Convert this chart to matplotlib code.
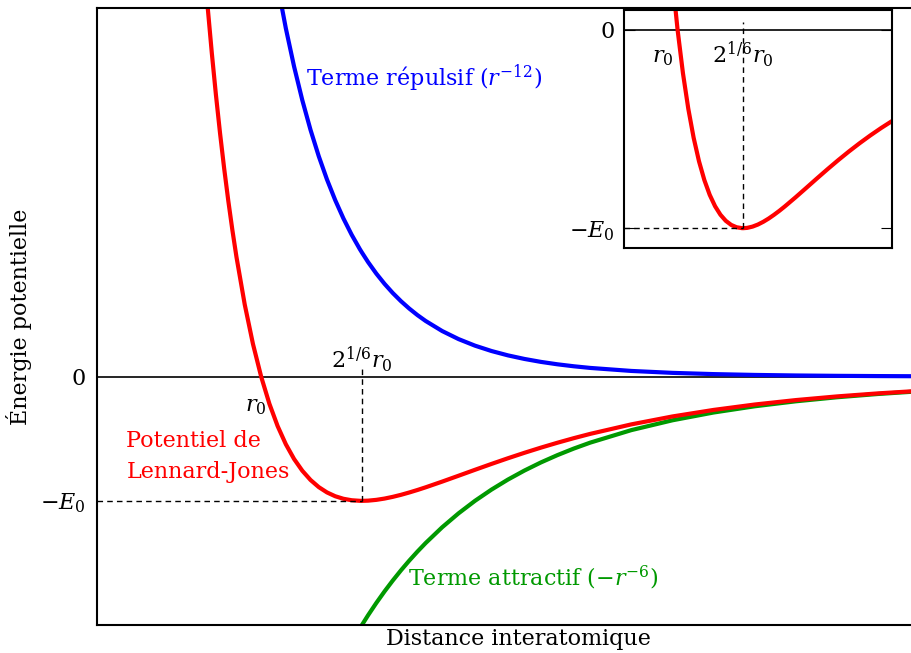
import matplotlib
matplotlib.use("Agg")
import matplotlib.pyplot as plt

# interatomic distance (units of r0) and energies (units of E0)
r = [0.93, 0.935, 0.94, 0.945, 0.95, 0.955, 0.96, 0.965, 0.97, 0.98, 0.99, 1.00,
     1.01, 1.02, 1.03, 1.04, 1.05, 1.06, 1.07, 1.08, 1.09, 1.10, 1.11, 1.12,
     1.1225, 1.13, 1.14, 1.15, 1.16, 1.17, 1.18, 1.19, 1.20, 1.22, 1.24, 1.26,
     1.28, 1.30, 1.32, 1.34, 1.36, 1.38, 1.40, 1.45, 1.50, 1.55, 1.60, 1.65,
     1.70, 1.75, 1.80, 1.85]
lj = [3.3733, 2.9736, 2.6066, 2.2699, 1.9609, 1.6778, 1.4183, 1.1806, 0.9629, 0.5819, 0.2641, 0.0,
      -0.2184, -0.3979, -0.5444, -0.6629, -0.7575, -0.8320, -0.8893, -0.9322, -0.9629, -0.9834, -0.9952, -0.9998,
      -1.0, -0.9985, -0.9921, -0.9817, -0.9679, -0.9515, -0.9328, -0.9126, -0.8910, -0.8452, -0.7977, -0.7498,
      -0.7027, -0.6570, -0.6132, -0.5716, -0.5323, -0.4953, -0.4607, -0.3841, -0.3203, -0.2677, -0.2242, -0.1884,
      -0.1589, -0.1344, -0.1141, -0.0973]
repulsive = [9.5558, 8.9603, 8.4048, 7.8864, 7.4024, 6.9506, 6.5284, 6.1339, 5.7650, 5.0974, 4.5127, 4.0,
             3.5498, 3.1540, 2.8056, 2.4984, 2.2274, 1.9879, 1.7760, 1.5884, 1.4222, 1.2745, 1.1434, 1.0267,
             1.0, 0.9228, 0.8302, 0.7476, 0.6738, 0.6079, 0.5489, 0.4960, 0.4486, 0.3679, 0.3027, 0.2498,
             0.2068, 0.1717, 0.1430, 0.1193, 0.0999, 0.0839, 0.0706, 0.0463, 0.0308, 0.0208, 0.0142, 0.0098,
             0.0069, 0.0049, 0.0035, 0.0025]
attractive = [-6.1825, -5.9868, -5.7982, -5.6166, -5.4415, -5.2728, -5.1102, -4.9533, -4.8021, -4.5155, -4.2486, -4.0,
              -3.7682, -3.5519, -3.3500, -3.1612, -2.9849, -2.8198, -2.6654, -2.5207, -2.3851, -2.2579, -2.1386, -2.0265,
              -2.0, -1.9213, -1.8224, -1.7293, -1.6418, -1.5594, -1.4817, -1.4086, -1.3396, -1.2131, -1.1004, -0.9996,
              -0.9095, -0.8287, -0.7562, -0.6909, -0.6322, -0.5791, -0.5312, -0.4304, -0.3512, -0.2885, -0.2384, -0.1982,
              -0.1657, -0.1393, -0.1176, -0.0998]

r_min = 1.1225   # 2^(1/6) r0
e_min = -1.0     # -E0

plt.rcParams['font.family'] = ['DejaVu Serif']
plt.rcParams['mathtext.fontset'] = 'dejavuserif'

red = '#ff0000'
blue = '#0000ff'
green = '#009900'
fs = 16

fig = plt.figure(figsize=(9.11, 6.53), dpi=100)
ax = fig.add_axes([0.1061, 0.0429, 0.8939, 0.9449])

ax.plot(r, repulsive, color=blue, lw=3)
ax.plot(r, attractive, color=green, lw=3)
ax.plot(r, lj, color=red, lw=3)
ax.axhline(0, color='black', lw=1.2, zorder=1)
ax.plot([r_min, r_min], [e_min, 0.065], color='black', lw=1, ls=(0, (4, 3)))
ax.plot([0.8, r_min], [e_min, e_min], color='black', lw=1, ls=(0, (4, 3)))

ax.set_xlim(0.8, 1.79)
ax.set_ylim(-2, 2.97)
ax.set_xticks([])
ax.set_yticks([e_min, 0])
ax.set_yticklabels([r'$-E_0$', '0'], fontsize=fs)
ax.tick_params(axis='y', length=0, pad=8)
ax.spines['right'].set_visible(False)
for s in ['left', 'top', 'bottom']:
    ax.spines[s].set_linewidth(1.5)

ax.text(0.993, -0.235, r'$r_0$', fontsize=fs, ha='center', va='center')
ax.text(r_min, 0.134, r'$2^{1/6}r_0$', fontsize=fs, ha='center', va='center')
ax.text(1.054, 2.40, r'Terme répulsif ($r^{-12}$)', color=blue, fontsize=fs, ha='left', va='center')
ax.text(0.836, -0.642, 'Potentiel de\nLennard-Jones', color=red, fontsize=fs,
        ha='left', va='center', linespacing=1.5)
ax.text(1.178, -1.62, r'Terme attractif ($-r^{-6}$)', color=green, fontsize=fs, ha='left', va='center')

ax.set_xlabel('Distance interatomique', fontsize=fs)
ax.xaxis.set_label_coords(0.518, -0.005)
ax.set_ylabel('Énergie potentielle', fontsize=fs)
ax.yaxis.set_label_coords(-0.080, 0.5)

# zoomed inset around the well
ins = fig.add_axes([0.6850, 0.6202, 0.2939, 0.3645])
ins.plot(r, lj, color=red, lw=3)
ins.axhline(0, color='black', lw=1.2, zorder=1)
ins.plot([r_min, r_min], [e_min, 0.04], color='black', lw=1, ls=(0, (4, 3)))
ins.plot([0.9, r_min], [e_min, e_min], color='black', lw=1, ls=(0, (4, 3)))
ins.set_xlim(0.9, 1.4)
ins.set_ylim(-1.1, 0.1)
ins.set_xticks([])
ins.set_yticks([e_min, 0])
ins.set_yticklabels([r'$-E_0$', '0'], fontsize=fs)
ins.tick_params(axis='y', direction='in', length=8, left=True, right=True, pad=7)
for s in ins.spines.values():
    s.set_linewidth(1.5)
ins.text(0.972, -0.137, r'$r_0$', fontsize=fs, ha='center', va='center')
ins.text(r_min, -0.127, r'$2^{1/6}r_0$', fontsize=fs, ha='center', va='center')

fig.savefig('out.png', dpi=100)
